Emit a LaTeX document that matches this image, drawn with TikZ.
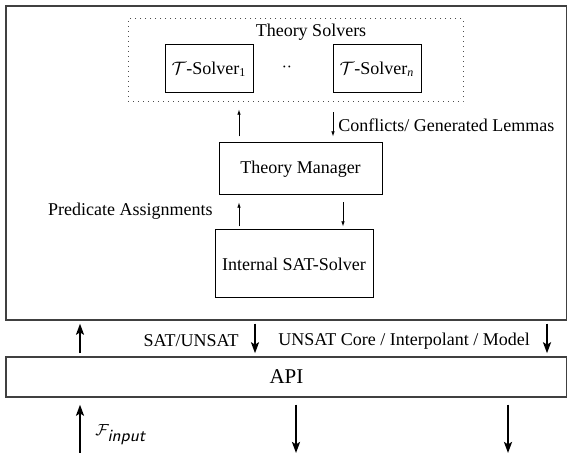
\documentclass[tikz,border=0pt]{standalone}
\usepackage{fontspec}
\setmainfont{Liberation Serif}
\usetikzlibrary{arrows.meta}
\begin{document}
\begin{tikzpicture}[x=0.5pt,y=-0.5pt,
  font=\fontsize{9}{11}\selectfont,
  frame/.style={draw=black!75, line width=0.75pt, inner sep=0pt},
  box/.style={draw, line width=0.5pt, inner sep=0pt},
  thinarrow/.style={-{Latex[length=2.6pt,width=1.8pt]}, line width=0.4pt},
  thickarrow/.style={-{Stealth[length=5.5pt,width=4pt,inset=1.2pt]}, line width=1pt},
  lbl/.style={inner sep=0pt}]
\useasboundingbox (0,0) rectangle (567,453);
% x positions of connectors
\coordinate (xa) at (239,0);
\coordinate (xb) at (333,0);
\coordinate (xc) at (343,0);
\coordinate (xd) at (80,0);
\coordinate (xe) at (255,0);
\coordinate (xf) at (547,0);
\coordinate (xg) at (296,0);
\coordinate (xh) at (508,0);
\coordinate (bot) at (0,453);
% boxes
\node[frame, minimum width=280.5pt, minimum height=157pt] (outer) at (286.5,163) {};
\node[box, dotted, draw=black!70, minimum width=167.5pt, minimum height=41.5pt] (ts) at (295.5,60.5) {};
\node[lbl] (tslabel) at (311,32) {Theory Solvers};
\node[box, minimum width=44pt, minimum height=24pt] (s1) at (209,69) {$\mathcal{T}$-Solver\textsubscript{1}};
\node[box, minimum width=44pt, minimum height=24pt] (sn) at (377,69) {$\mathcal{T}$-Solver\textsubscript{\textit{n}}};
\node[lbl] (dots) at (287,67) {$\cdot\cdot$};
\node[box, minimum width=81.5pt, minimum height=26pt] (tm) at (300.5,169) {Theory Manager};
\node[box, minimum width=79pt, minimum height=34pt] (sat) at (294,264) {Internal SAT-Solver};
\node[frame, minimum width=280.5pt, minimum height=20pt, font=\fontsize{10.5}{12}\selectfont] (api) at (286.5,377) {API};
% inner connectors
\draw[thinarrow, shorten <=3pt, shorten >=3.5pt] (tm.north -| xa) -- (ts.south -| xa);
\draw[thinarrow, shorten <=5pt, shorten >=3pt] (ts.south -| xb) -- (tm.north -| xb);
\draw[thinarrow, shorten <=1.5pt, shorten >=3.5pt] (sat.north -| xa) -- (tm.south -| xa);
\draw[thinarrow, shorten <=3.5pt, shorten >=1.5pt] (tm.south -| xc) -- (sat.north -| xc);
\node[lbl, anchor=west] (confl) at (338,125) {Conflicts/ Generated Lemmas};
\node[lbl, anchor=east] (pred) at (213,211) {Predicate Assignments};
% API connectors
\draw[thickarrow, shorten <=1.5pt, shorten >=1.5pt] (api.north -| xd) -- (outer.south -| xd);
\draw[thickarrow, shorten <=1.5pt, shorten >=1.5pt] (outer.south -| xe) -- (api.north -| xe);
\draw[thickarrow, shorten <=1.5pt, shorten >=1.5pt] (outer.south -| xf) -- (api.north -| xf);
\node[lbl, anchor=east] (satunsat) at (239,341) {SAT/UNSAT};
\node[lbl, anchor=west] (core) at (278,341) {UNSAT Core / Interpolant / Model};
\draw[thickarrow, shorten >=3.5pt] (bot -| xd) -- (api.south -| xd);
\draw[thickarrow, shorten <=3.5pt] (api.south -| xg) -- (bot -| xg);
\draw[thickarrow, shorten <=3.5pt] (api.south -| xh) -- (bot -| xh);
\node[lbl, anchor=west, font=\fontsize{8.5}{10}\selectfont] (finput) at (95,435) {$\mathcal{F}_{\textsf{\textit{input}}}$};
\end{tikzpicture}
\end{document}
